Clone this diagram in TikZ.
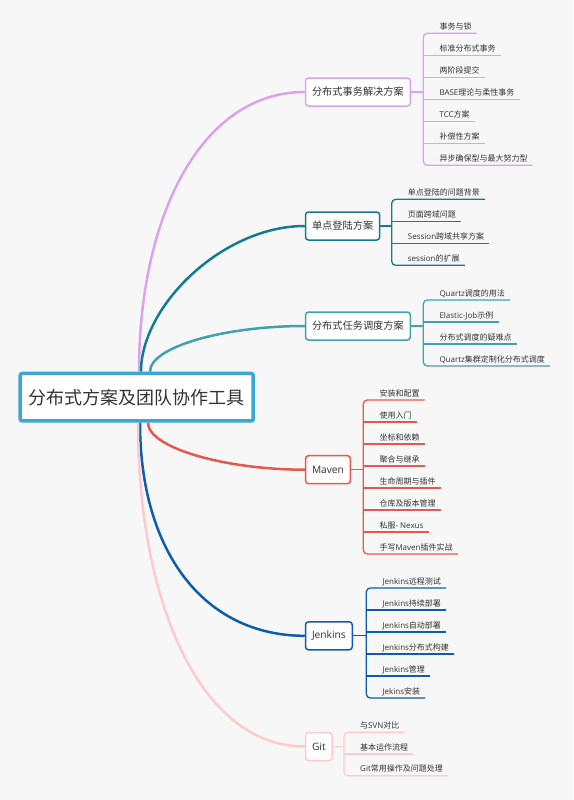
\documentclass[tikz,border=0pt]{standalone}
\usepackage{fontspec}
\setmainfont{Noto Sans CJK SC}
\newfontfamily\lat{Open Sans}
\usetikzlibrary{calc}
\pgfdeclarelayer{back}
\pgfdeclarelayer{edges}
\pgfsetlayers{back,edges,main}
\definecolor{bgc}{HTML}{F7F7F7}
\definecolor{txt}{HTML}{333333}
\definecolor{rootc}{HTML}{3AA8D4}
\definecolor{cpur}{HTML}{D9A3EE}
\definecolor{cdteal}{HTML}{147B90}
\definecolor{cteal}{HTML}{3FA2AC}
\definecolor{cred}{HTML}{E8574B}
\definecolor{cblue}{HTML}{0B5EAB}
\definecolor{cpink}{HTML}{FFCACA}
\tikzset{
  rootbox/.style={draw=rootc, line width=3.5pt, fill=white, rounded corners=2pt,
    minimum width=233pt, minimum height=47.5pt, inner sep=0pt,
    font=\fontsize{18}{20}\selectfont, text=txt},
  lone/.style={line width=1.5pt, fill=white, rounded corners=3pt, minimum height=28pt,
    inner xsep=6.5pt, inner ysep=0pt, font=\fontsize{10.2}{12}\selectfont, text=txt, anchor=west},
  leaf/.style={inner sep=0pt, anchor=base west, font=\fontsize{8}{9.6}\selectfont, text=txt},
  branch/.style={line width=2.5pt},
  twig/.style={line width=1.3pt, rounded corners=4pt}
}
\newcommand\ulin[2]{\draw[twig,#1] ($(#2.base west)+(-16,4)$) -- ($(#2.base east)+(5,4)$);}
\newcommand\brak[4]{%
  \draw[twig,#1] ($(#2.base east)+(5,4)$) -- ($(#2.base west)+(-16,4)$) -- ($(#3.base west)+(-16,4)$) -- ($(#3.base east)+(5,4)$);
  \coordinate (#4) at ($(#2.base west)+(-16,4)$);}
\begin{document}
\begin{tikzpicture}[x=1pt,y=-1pt]
\begin{pgfonlayer}{back}
\fill[bgc] (0,0) rectangle (573,800);
\end{pgfonlayer}
\useasboundingbox (0,0) rectangle (573,800);

\node[rootbox] (root) at (136.7,397.2) {分布式方案及团队协作工具};

\node[lone, draw=cpur] (t1) at (304.75,92) {分布式事务解决方案};
\node[lone, draw=cdteal] (t2) at (304.75,226) {单点登陆方案};
\node[lone, draw=cteal] (t3) at (304.75,326) {分布式任务调度方案};
\node[lone, draw=cred] (t4) at (304.75,469.7) {\lat Maven};
\node[lone, draw=cblue] (t5) at (304.75,635.8) {\lat Jenkins};
\node[lone, draw=cpink] (t6) at (304.75,746.5) {\lat Git};

\begin{pgfonlayer}{edges}
\draw[branch, cpur] ($(root.north)+(2.3,0)$) to[out=90,in=180,out distance=155pt,in distance=104pt] (t1.west);
\draw[branch, cdteal] ($(root.north)+(4.3,0)$) to[out=90,in=180,out distance=66pt,in distance=82pt] (t2.west);
\draw[branch, cteal] ($(root.north)+(13.3,0)$) to[out=90,in=180,out distance=25pt,in distance=80pt] (t3.west);
\draw[branch, cred] ($(root.south)+(11.3,0)$) to[out=-90,in=180,out distance=25pt,in distance=80pt] (t4.west);
\draw[branch, cblue] ($(root.south)+(3.3,0)$) to[out=-90,in=180,out distance=130pt,in distance=100pt] (t5.west);
\draw[branch, cpink] ($(root.south)+(1.3,0)$) to[out=-90,in=180,out distance=179pt,in distance=105pt] (t6.west);
\end{pgfonlayer}

% group 1
\node[leaf] (a1) at (439.3,29.3) {事务与锁};
\node[leaf] (a2) at (439.3,51.3) {标准分布式事务};
\node[leaf] (a3) at (439.3,73.3) {两阶段提交};
\node[leaf] (a4) at (439.3,95.3) {{\lat BASE}理论与柔性事务};
\node[leaf] (a5) at (439.3,117.3) {{\lat TCC}方案};
\node[leaf] (a6) at (439.3,139.3) {补偿性方案};
\node[leaf] (a7) at (439.3,161.3) {异步确保型与最大努力型};
\brak{cpur}{a1}{a7}{b1}
\ulin{cpur}{a2}\ulin{cpur}{a3}\ulin{cpur}{a4}\ulin{cpur}{a5}\ulin{cpur}{a6}
\draw[twig,cpur] (t1.east) -- (t1.east -| b1);

% group 2
\node[leaf] (c1) at (407.7,195.3) {单点登陆的问题背景};
\node[leaf] (c2) at (407.7,217.3) {页面跨域问题};
\node[leaf] (c3) at (407.7,239.3) {{\lat Session}跨域共享方案};
\node[leaf] (c4) at (407.7,261.3) {{\lat session}的扩展};
\brak{cdteal}{c1}{c4}{b2}
\ulin{cdteal}{c2}\ulin{cdteal}{c3}
\draw[twig,cdteal] (t2.east) -- (t2.east -| b2);

% group 3
\node[leaf] (d1) at (439.3,296) {{\lat Quartz}调度的用法};
\node[leaf] (d2) at (439.3,318) {{\lat Elastic-Job}示例};
\node[leaf] (d3) at (439.3,340) {分布式调度的疑难点};
\node[leaf] (d4) at (439.3,362) {{\lat Quartz}集群定制化分布式调度};
\brak{cteal}{d1}{d4}{b3}
\ulin{cteal}{d2}\ulin{cteal}{d3}
\draw[twig,cteal] (t3.east) -- (t3.east -| b3);

% Maven
\node[leaf] (e1) at (379.3,396) {安装和配置};
\node[leaf] (e2) at (379.3,418) {使用入门};
\node[leaf] (e3) at (379.3,440) {坐标和依赖};
\node[leaf] (e4) at (379.3,462) {聚合与继承};
\node[leaf] (e5) at (379.3,484) {生命周期与插件};
\node[leaf] (e6) at (379.3,506) {仓库及版本管理};
\node[leaf] (e7) at (379.3,528) {私服{\lat - Nexus}};
\node[leaf] (e8) at (379.3,550) {手写{\lat Maven}插件实战};
\brak{cred}{e1}{e8}{b4}
\ulin{cred}{e2}\ulin{cred}{e3}\ulin{cred}{e4}\ulin{cred}{e5}\ulin{cred}{e6}\ulin{cred}{e7}
\draw[twig,cred] (t4.east) -- (t4.east -| b4);

% Jenkins
\node[leaf] (f1) at (382.3,584) {{\lat Jenkins}远程测试};
\node[leaf] (f2) at (382.3,606) {{\lat Jenkins}持续部署};
\node[leaf] (f3) at (382.3,628) {{\lat Jenkins}自动部署};
\node[leaf] (f4) at (382.3,650) {{\lat Jenkins}分布式构建};
\node[leaf] (f5) at (382.3,672) {{\lat Jenkins}管理};
\node[leaf] (f6) at (382.3,694) {{\lat Jekins}安装};
\brak{cblue}{f1}{f6}{b5}
\ulin{cblue}{f2}\ulin{cblue}{f3}\ulin{cblue}{f4}\ulin{cblue}{f5}
\draw[twig,cblue] (t5.east) -- (t5.east -| b5);

% Git
\node[leaf] (g1) at (360,728.3) {与{\lat SVN}对比};
\node[leaf] (g2) at (360,750) {基本运作流程};
\node[leaf] (g3) at (360,771.7) {{\lat Git}常用操作及问题处理};
\brak{cpink}{g1}{g3}{b6}
\ulin{cpink}{g2}
\draw[twig,cpink] (t6.east) -- (t6.east -| b6);
\end{tikzpicture}
\end{document}
